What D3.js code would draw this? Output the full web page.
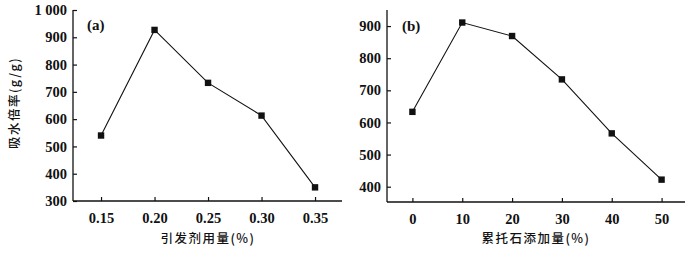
<!DOCTYPE html>
<html><head><meta charset="utf-8">
<script src="https://cdn.jsdelivr.net/npm/d3@7"></script>
<style>
html,body{margin:0;padding:0;background:#fff;}
svg text{fill:#111;}
</style></head>
<body>
<svg id="c" width="692" height="253"></svg>
<script>
// Panel (a)
const initiatorDose = [0.15, 0.20, 0.25, 0.30, 0.35];
const absorptionA = [540, 927, 733, 613, 350];
const xTicksA = [0.15, 0.20, 0.25, 0.30, 0.35];
const yTicksA = [300, 400, 500, 600, 700, 800, 900, 1000];
// Panel (b)
const rectoriteAdd = [0, 10, 20, 30, 40, 50];
const absorptionB = [633, 911, 869, 734, 566, 422];
const xTicksB = [0, 10, 20, 30, 40, 50];
const yTicksB = [400, 500, 600, 700, 800, 900];

const svg = d3.select("#c");
svg.append("rect").attr("width",692).attr("height",253).attr("fill","#fff");
const numFont = "'Liberation Serif','Times New Roman',serif";
const cjkFont = "'Noto Sans CJK SC',sans-serif";

function panel(cfg){
  const x = d3.scaleLinear().domain(cfg.xDom).range(cfg.xRange);
  const y = d3.scaleLinear().domain(cfg.yDom).range(cfg.yRange);
  const g = svg.append("g");
  g.append("line").attr("x1",x(cfg.xDom[0])).attr("x2",x(cfg.xDom[0]))
    .attr("y1",y(cfg.yDom[0])).attr("y2",y(cfg.yDom[1])).attr("stroke","#111").attr("stroke-width",1.3);
  g.append("line").attr("x1",x(cfg.xDom[0])).attr("x2",x(cfg.xDom[1]))
    .attr("y1",y(cfg.yDom[0])).attr("y2",y(cfg.yDom[0])).attr("stroke","#111").attr("stroke-width",1.3);
  const ya = d3.axisLeft(y).tickValues(cfg.yTicks).tickSizeInner(-4).tickSizeOuter(0).tickPadding(6)
    .tickFormat(cfg.yFmt);
  const yg = g.append("g").attr("transform",`translate(${x(cfg.xDom[0])},0)`).call(ya);
  const xa = d3.axisBottom(x).tickValues(cfg.xTicks).tickSizeInner(-4).tickSizeOuter(0).tickPadding(12)
    .tickFormat(cfg.xFmt);
  const xg = g.append("g").attr("transform",`translate(0,${y(cfg.yDom[0])})`).call(xa);
  [yg,xg].forEach(a=>{
    a.select(".domain").remove();
    a.selectAll(".tick line").attr("stroke","#111").attr("stroke-width",1.2);
    a.selectAll(".tick text").attr("font-family",numFont).attr("font-size",14.5).attr("font-weight","bold").attr("fill","#111");
  });
  const pts = cfg.xs.map((v,i)=>[v,cfg.ys[i]]);
  g.append("path").datum(pts).attr("fill","none").attr("stroke","#111").attr("stroke-width",1.1)
    .attr("d",d3.line().x(d=>x(d[0])).y(d=>y(d[1])));
  g.selectAll("rect.m").data(pts).join("rect").attr("class","m")
    .attr("x",d=>x(d[0])-3.2).attr("y",d=>y(d[1])-3.2).attr("width",6.4).attr("height",6.4).attr("fill","#111");
  g.append("text").attr("x",cfg.labPos[0]).attr("y",cfg.labPos[1]).attr("font-family",numFont)
    .attr("font-size",15).attr("font-weight","bold").text(cfg.lab);
  g.append("text").attr("x",cfg.xTitlePos[0]).attr("y",cfg.xTitlePos[1]).attr("text-anchor","middle")
    .attr("font-family",cjkFont).attr("font-size",12.5).attr("font-weight",500).attr("letter-spacing",1.5).text(cfg.xTitle);
  return {x,y};
}

panel({xDom:[0.1238,0.3752], xRange:[73,342], yDom:[300,1000], yRange:[201,10],
  xTicks:xTicksA, yTicks:yTicksA, xs:initiatorDose, ys:absorptionA,
  xFmt:d3.format(".2f"), yFmt:d=>d===1000?"1 000":String(d),
  lab:"(a)", labPos:[87,30], xTitle:"引发剂用量(%)", xTitlePos:[208,243]});

panel({xDom:[-5.1,54.7], xRange:[387,685], yDom:[352.4,950], yRange:[202,10],
  xTicks:xTicksB, yTicks:yTicksB, xs:rectoriteAdd, ys:absorptionB,
  xFmt:d3.format("d"), yFmt:d3.format("d"),
  lab:"(b)", labPos:[402,31], xTitle:"累托石添加量(%)", xTitlePos:[536,243]});

svg.append("text").attr("transform","translate(19,103) rotate(-90)").attr("text-anchor","middle")
  .attr("font-family",cjkFont).attr("font-size",12.5).attr("font-weight",500).attr("letter-spacing",1.5).text("吸水倍率(g/g)");
</script>
</body></html>
